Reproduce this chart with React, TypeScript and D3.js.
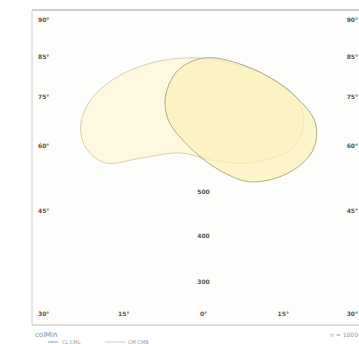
import React from "react";
import * as d3 from "d3";

const latTicks = [90, 85, 75, 60, 45, 30];
const latLabelTicks = [90, 85, 75, 60, 45];
const latLabels = ["90°", "85°", "75°", "60°", "45°"];
const lonTicks = [-30, -15, 0, 15, 30];
const lonLabels = ["30°", "15°", "0°", "15°", "30°"];
const innerLabels = ["500", "400", "300"];
const innerLats = [49.4, 41.3, 34.6];

// range outlines as [lon, lat]
const rangeA: [number, number][] = [
  [-2.4, 84.8], [5.1, 83.5], [12.6, 79.8], [17.8, 74.1], [18.8, 66.4],
  [16.7, 59.5], [8.8, 56.1], [1.3, 56.8], [-4.3, 58.4], [-11.8, 57.2],
  [-18.4, 56.1], [-22.1, 59.5], [-23.1, 66.4], [-21.2, 74.1], [-16.5, 79.8],
  [-9.9, 83.5],
];
const rangeB: [number, number][] = [
  [0.4, 84.8], [8.8, 82.3], [16.3, 76.3], [21.0, 67.3], [20.6, 59.1],
  [16.3, 54.0], [9.2, 51.7], [3.6, 54.0], [-2.4, 59.5], [-6.6, 67.9],
  [-7.1, 75.5], [-4.7, 81.8],
];
const legendTitle = "colMin";
const legendItems = ["CL CML", "CM CMB"];
const note = "n = 1000";

export default function App() {
  const W = 359, H = 344;
  const x = d3.scaleLinear().domain([-30, 30]).range([44, 363]);
  const y = d3.scaleLinear().domain(latTicks).range([20, 57, 97, 146, 211, 313]);
  const line = d3
    .line<[number, number]>()
    .x((d) => x(d[0]))
    .y((d) => y(d[1]))
    .curve(d3.curveCatmullRomClosed.alpha(0.5));
  const frame = { l: 32, t: 10, r: 370, b: 325 };
  const tickFont = { fontFamily: "DejaVu Sans, sans-serif", fontSize: 6, fill: "#555", fontWeight: "bold" as const };
  return (
    <svg width={W} height={H} style={{ position: "absolute", left: 0, top: 0, background: "#fff" }}>
      <rect x={frame.l} y={frame.t} width={frame.r - frame.l} height={frame.b - frame.t} fill="#fdfdfc" stroke="none" />
      <line x1={frame.l} x2={W} y1={frame.t} y2={frame.t} stroke="#bbb" strokeWidth={1.5} />
      <line x1={frame.l} x2={frame.l} y1={frame.t} y2={frame.b} stroke="#ccc" strokeWidth={1} />
      <line x1={frame.l} x2={W} y1={frame.b} y2={frame.b} stroke="#bbb" strokeWidth={1} />
      <path d={line(rangeA) || ""} fill="#fdf7dc" fillOpacity={0.9} stroke="#d9d0b0" strokeWidth={1} />
      <path d={line(rangeB) || ""} fill="#fcf0b4" fillOpacity={0.7} stroke="#b3aa8a" strokeWidth={1} />
      {latLabelTicks.map((t, i) => (
        <g key={t}>
          <text x={38} y={y(t) + 2} {...tickFont}>{latLabels[i]}</text>
          <text x={358} y={y(t) + 2} textAnchor="end" {...tickFont}>{latLabels[i]}</text>
        </g>
      ))}
      {lonTicks.map((t, i) => {
        if (i === 0) return <text key={t} x={38} y={316} {...tickFont}>{lonLabels[i]}</text>;
        if (i === lonTicks.length - 1)
          return <text key={t} x={358} y={316} textAnchor="end" {...tickFont}>{lonLabels[i]}</text>;
        return <text key={t} x={x(t)} y={316} textAnchor="middle" {...tickFont}>{lonLabels[i]}</text>;
      })}
      {innerLabels.map((s, i) => (
        <text key={s} x={x(0)} y={y(innerLats[i]) + 2} textAnchor="middle" {...tickFont}>{s}</text>
      ))}
      <text x={35} y={337} fontFamily="DejaVu Sans, sans-serif" fontSize={7} fill="#888">{legendTitle}</text>
      <line x1={48} x2={58} y1={342} y2={342} stroke="#999" strokeWidth={1} />
      <text x={62} y={344} fontFamily="DejaVu Sans, sans-serif" fontSize={5} fill="#999">{legendItems[0]}</text>
      <line x1={105} x2={125} y1={342} y2={342} stroke="#ccc" strokeWidth={1} />
      <text x={128} y={344} fontFamily="DejaVu Sans, sans-serif" fontSize={5} fill="#999">{legendItems[1]}</text>
      <text x={358} y={337} textAnchor="end" fontFamily="DejaVu Sans, sans-serif" fontSize={6} fill="#999">{note}</text>
    </svg>
  );
}
